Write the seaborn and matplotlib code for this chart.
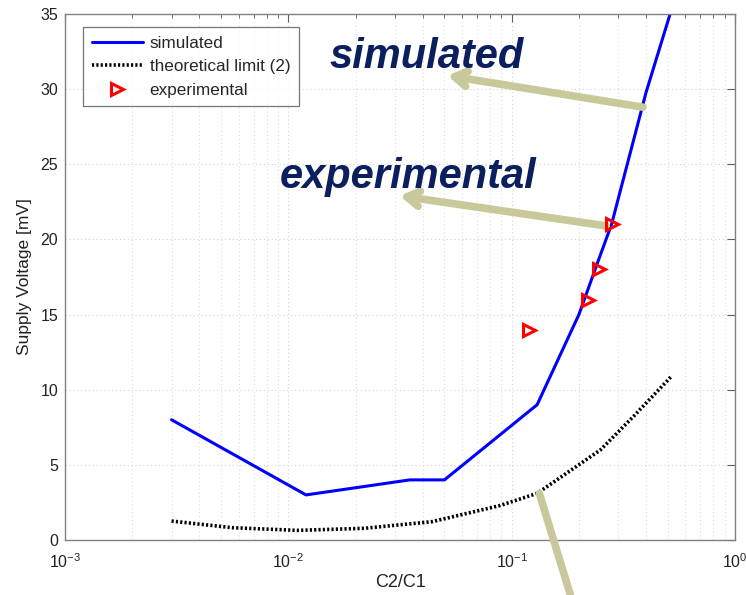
import matplotlib
matplotlib.use("Agg")
import matplotlib.pyplot as plt
import seaborn as sns
import pandas as pd
from matplotlib.ticker import LogLocator, MultipleLocator, NullFormatter

# ---- data ----
sim_x = [0.003, 0.012, 0.035, 0.05, 0.13, 0.2, 0.25, 0.28, 0.4, 0.55]
sim_y = [8.0, 3.0, 4.0, 4.0, 9.0, 15.0, 19.0, 21.0, 29.8, 36.5]

theory_x = [0.003, 0.0056, 0.011, 0.022, 0.031, 0.044, 0.088, 0.13, 0.25, 0.35, 0.52]
theory_y = [1.26, 0.82, 0.64, 0.78, 1.0, 1.22, 2.28, 3.1, 6.0, 8.2, 10.9]

exp_x = [0.12, 0.22, 0.245, 0.28]
exp_y = [14.0, 16.0, 18.0, 21.0]

labels = ["simulated", "theoretical limit (2)", "experimental"]
xlabel = "C2/C1"
ylabel = "Supply Voltage [mV]"

sns.set_style("white")
plt.rcParams['font.family'] = ['Liberation Sans', 'DejaVu Sans']
plt.rcParams['mathtext.fontset'] = 'custom'
plt.rcParams['mathtext.rm'] = 'Liberation Sans'
plt.rcParams['mathtext.it'] = 'Liberation Sans:italic'

fig = plt.figure(figsize=(7.46, 5.95), dpi=100)
ax = fig.add_axes([65/746, 55/595, 670/746, 526/595])

df_sim = pd.DataFrame({"x": sim_x, "y": sim_y})
df_th = pd.DataFrame({"x": theory_x, "y": theory_y})
df_exp = pd.DataFrame({"x": exp_x, "y": exp_y})

sns.lineplot(data=df_sim, x="x", y="y", ax=ax, color="#0000ff", lw=2.2,
             sort=False, estimator=None, label=labels[0])
sns.lineplot(data=df_th, x="x", y="y", ax=ax, color="black", lw=2.6,
             sort=False, estimator=None, label=labels[1], linestyle=(0, (0.6, 0.6)))
ax.plot(exp_x, exp_y, linestyle="none", marker=">", markersize=8,
        markerfacecolor="none", markeredgecolor="red", markeredgewidth=2.2,
        label=labels[2], zorder=5)

ax.set_xscale("log")
ax.set_xlim(1e-3, 1)
ax.set_ylim(0, 35)
ax.yaxis.set_major_locator(MultipleLocator(5))
ax.xaxis.set_major_locator(LogLocator(base=10, numticks=10))
ax.xaxis.set_minor_locator(LogLocator(base=10, subs=range(2, 10), numticks=20))
ax.xaxis.set_minor_formatter(NullFormatter())

ax.grid(True, which="major", color="#d4d4d4", linestyle=(0, (1, 2.5)), lw=0.8)
ax.grid(True, which="minor", axis="x", color="#dcdcdc", linestyle=(0, (1, 2.5)), lw=0.8)

for s in ax.spines.values():
    s.set_color("#808080")
    s.set_linewidth(1.0)
ax.tick_params(which="both", direction="in", top=True, right=True,
               colors="#606060", labelcolor="#222222", labelsize=11.5)
ax.tick_params(which="major", length=6)
ax.tick_params(which="minor", length=3)
ax.tick_params(axis="x", which="major", pad=9)
ax.tick_params(axis="y", which="major", pad=5)

ax.set_xlabel(xlabel, fontsize=13, color="#222222", labelpad=2)
ax.set_ylabel(ylabel, fontsize=12.5, color="#222222", labelpad=6)

leg = ax.legend(loc="upper left", bbox_to_anchor=(18/670, 513/526), fontsize=12.3,
                frameon=True, fancybox=False, edgecolor="#555555",
                borderaxespad=0, borderpad=0.5, handlelength=3.0,
                handletextpad=0.4, labelspacing=0.5)
leg.get_frame().set_linewidth(0.9)

# annotations
navy = "#0b1f5e"
khaki = "#c9c89a"
fig.text(330/746, 1 - 68/595, "simulated", fontsize=30, fontweight="bold",
         fontstyle="italic", color=navy, ha="left", va="baseline")
fig.text(280/746, 1 - 188/595, "experimental", fontsize=30, fontweight="bold",
         fontstyle="italic", color=navy, ha="left", va="baseline")

arrow_kw = dict(arrowstyle="->,head_length=0.9,head_width=0.55", color=khaki,
                lw=5.5, shrinkA=0, shrinkB=0)
ax.annotate("", xy=(0.0515, 30.9), xytext=(0.387, 28.8),
            xycoords="data", textcoords="data", arrowprops=arrow_kw,
            annotation_clip=False)
ax.annotate("", xy=(0.0315, 22.9), xytext=(0.265, 20.9),
            xycoords="data", textcoords="data", arrowprops=arrow_kw,
            annotation_clip=False)
ax.annotate("", xy=(0.1845, -3.8), xytext=(0.133, 3.1),
            xycoords="data", textcoords="data",
            arrowprops=dict(arrowstyle="-", color=khaki, lw=5.5, shrinkA=0, shrinkB=0),
            annotation_clip=False)

fig.savefig("out.png", dpi=100)
